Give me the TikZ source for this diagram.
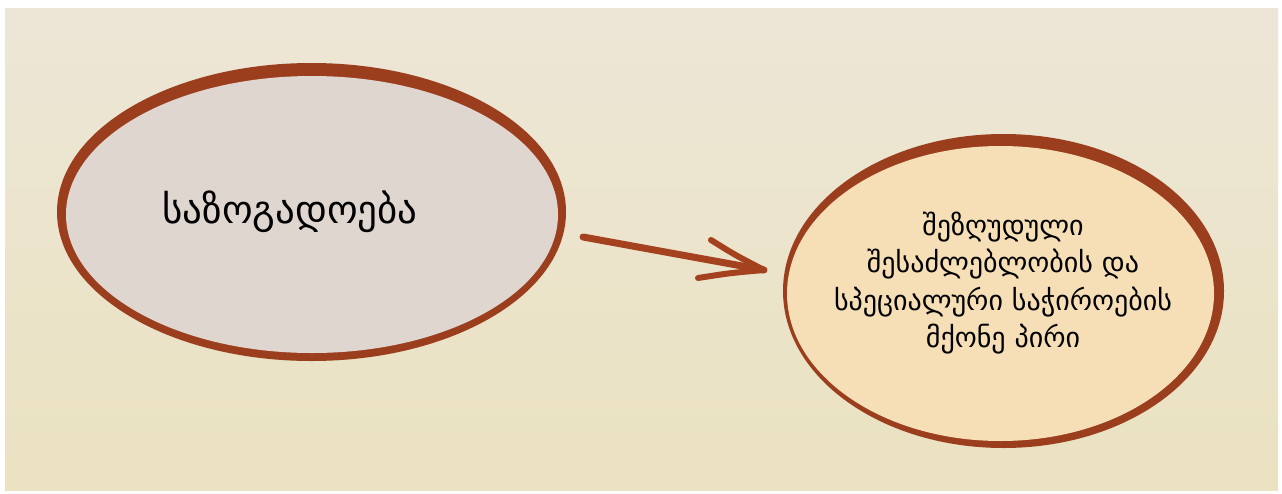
\documentclass[tikz,border=0pt]{standalone}
\usepackage{fontspec}
\newfontfamily\geo{DejaVu Sans}
\usetikzlibrary{shapes.geometric}
\definecolor{bgtop}{HTML}{EDE6D7}
\definecolor{bgbot}{HTML}{EAE2C0}
\definecolor{rim}{HTML}{9B3E1E}
\definecolor{leftfill}{HTML}{DFD6D0}
\definecolor{rightfill}{HTML}{F6DEB6}
\definecolor{arrowc}{HTML}{A4421F}
\tikzset{
  rimell/.style={ellipse, fill=rim, draw=none, inner sep=0pt, outer sep=0pt},
  bodyell/.style={ellipse, draw=none, inner sep=0pt, outer sep=0pt},
  label text/.style={align=center, inner sep=0pt, text=black},
  stroke/.style={draw=arrowc, line width=7pt, line cap=round, line join=round}
}
\begin{document}
\begin{tikzpicture}[x=1pt,y=-1pt]
\useasboundingbox (0,0) rectangle (1282,493);
\fill[white] (0,0) rectangle (1282,493);
\shade[top color=bgtop, bottom color=bgbot] (5,8) rectangle (1278,490);
% left ellipse
\node[rimell, minimum width=509pt, minimum height=298pt] (socrim) at (311.5,212) {};
\node[bodyell, fill=leftfill, minimum width=492pt, minimum height=277pt] (soc) at (312,214.5) {};
\node[label text, font=\geo\fontsize{39}{44}\selectfont] (soctext) at (290,212) {საზოგადოება};
% right ellipse
\node[rimell, minimum width=441pt, minimum height=314pt] (pwdrim) at (1003.5,291) {};
\node[bodyell, fill=rightfill, minimum width=427pt, minimum height=295pt] (pwd) at (1000.5,293.5) {};
\node[label text, font=\geo\fontsize{28}{37.5}\selectfont] (pwdtext) at (1003,283) {შეზღუდული\\შესაძლებლობის და\\სპეციალური საჭიროების\\მქონე პირი};
% arrow
\coordinate (tail) at (583,237);
\coordinate (tip) at (764,270);
\coordinate (barbup) at (711,240);
\coordinate (barblo) at (698,278);
\draw[stroke] (tail) -- (tip);
\draw[stroke, line width=6pt] (barbup) .. controls (735,255) .. (tip);
\draw[stroke, line width=6pt] (barblo) .. controls (730,273) .. (tip);
\end{tikzpicture}
\end{document}
